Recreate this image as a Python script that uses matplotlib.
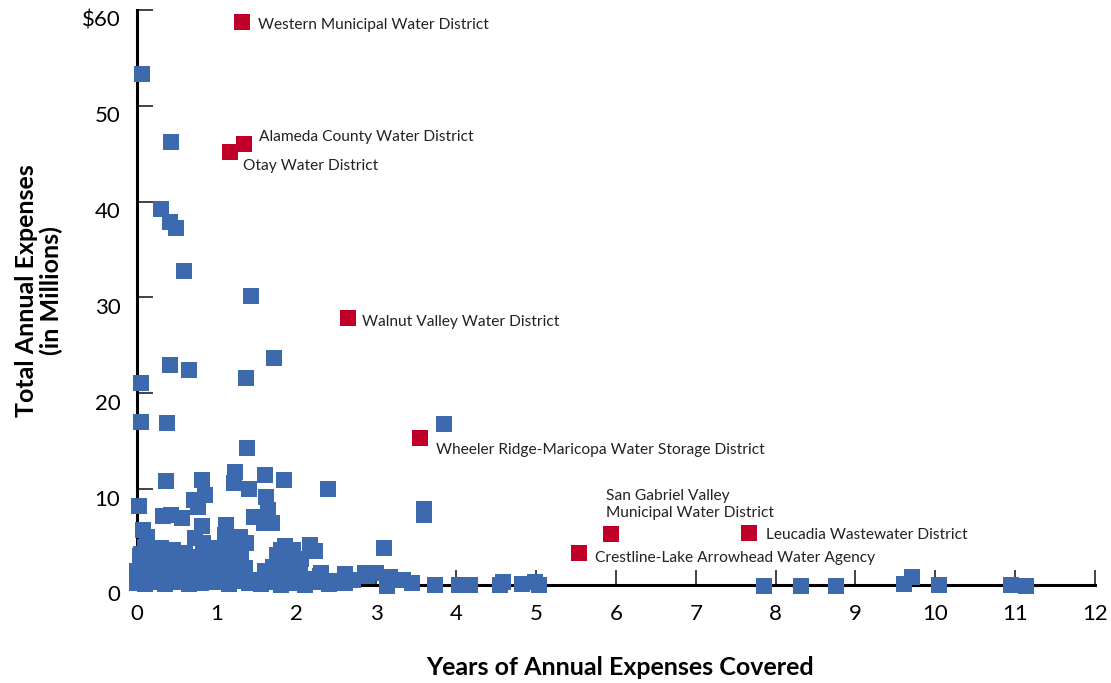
import matplotlib
matplotlib.use("Agg")
import matplotlib.pyplot as plt
import matplotlib.transforms as mtransforms

plt.rcParams['font.family'] = ['Lato', 'DejaVu Sans']

# water districts (blue): years covered, expenses in millions
years = [0.06, 0.43, 0.30, 0.41, 0.49, 0.59, 1.43, 0.05, 0.41, 0.65, 1.37, 1.72,
         0.05, 0.38, 1.38, 3.85, 0.03, 0.36, 0.81, 0.85, 1.23, 1.21, 1.40, 1.60,
         1.84, 2.39, 1.62, 0.72, 0.76, 0.32, 0.42, 0.57, 1.47, 1.64, 1.69, 1.59,
         1.11, 0.81, 0.07, 0.13, 1.10, 1.29, 1.36, 0.73, 0.83, 2.17, 2.23, 3.10,
         1.86, 3.59, 3.60, 1.17, 0.23, 0.04, 2.04, 1.75, 1.92, 1.71, 2.29, 2.88,
         3.73, 4.03, 3.17, 3.13, 3.33, 3.45, 4.17, 4.58, 4.55, 4.82, 4.99, 5.04,
         7.85, 8.32, 8.76, 9.61, 9.71, 10.05, 10.95, 11.14,
         # bottom cluster
         0.00, 0.05, 0.10, 0.15, 0.20, 0.30, 0.35, 0.45, 0.50, 0.60, 0.65, 0.75,
         0.80, 0.90, 1.00, 1.05, 1.15, 1.25, 1.30, 1.40, 1.50, 1.55, 1.65, 1.75,
         1.80, 1.90, 2.00, 2.10, 2.20, 2.30, 2.40, 2.50, 2.60, 2.70,
         0.00, 0.10, 0.25, 0.40, 0.55, 0.70, 0.85, 0.95, 1.10, 1.20, 1.35, 1.60,
         1.70, 1.85, 2.00, 2.30, 2.60, 2.85, 3.00,
         0.05, 0.20, 0.35, 0.50, 0.60, 0.80, 0.95, 1.15, 1.30, 1.78, 1.90, 2.05,
         0.10, 0.30, 0.45, 0.90, 1.00, 1.20, 1.80, 1.95]
expenses = [53.3, 46.2, 39.2, 37.9, 37.2, 32.8, 30.2, 21.1, 23.0, 22.4, 21.6, 23.7,
            17.0, 16.9, 14.3, 16.8, 8.2, 10.9, 11.0, 9.4, 11.8, 10.6, 10.0, 11.5,
            11.0, 10.0, 9.2, 8.9, 8.1, 7.2, 7.3, 7.0, 7.1, 7.8, 6.5, 6.5,
            6.3, 6.2, 5.7, 5.0, 5.2, 5.0, 4.4, 4.9, 4.4, 4.2, 3.5, 3.9,
            4.1, 7.9, 7.3, 3.1, 3.3, 3.0, 2.1, 3.1, 3.0, 1.9, 0.9, 0.9,
            0.0, 0.0, 0.8, -0.1, 0.5, 0.2, 0.0, 0.35, 0.0, 0.1, 0.35, 0.0,
            -0.1, -0.1, -0.1, 0.1, 0.8, 0.0, 0.0, -0.1,
            0.2, 0.6, 0.1, 0.7, 0.3, 0.5, 0.1, 0.6, 0.3, 0.5, 0.1, 0.6,
            0.2, 0.5, 0.3, 0.6, 0.1, 0.4, 0.7, 0.2, 0.5, 0.1, 0.6, 0.3,
            0.0, 0.5, 0.2, 0.0, 0.6, 0.3, 0.1, 0.4, 0.2, 0.5,
            1.5, 1.8, 1.3, 1.9, 1.5, 1.7, 1.4, 1.9, 1.6, 1.3, 1.8, 1.5,
            1.9, 1.4, 1.6, 1.2, 1.1, 1.3, 1.2,
            3.2, 2.8, 3.4, 2.6, 3.3, 2.9, 2.5, 2.8, 3.3, 2.6, 2.5, 2.7,
            4.0, 3.9, 3.6, 3.8, 3.9, 4.0, 3.7, 3.6]

# highlighted districts (red)
names = ["Western Municipal Water District", "Alameda County Water District",
         "Otay Water District", "Walnut Valley Water District",
         "Wheeler Ridge-Maricopa Water Storage District",
         "San Gabriel Valley\nMunicipal Water District",
         "Leucadia Wastewater District", "Crestline-Lake Arrowhead Water Agency"]
red_years = [1.32, 1.34, 1.16, 2.64, 3.55, 5.94, 7.67, 5.54]
red_expenses = [58.7, 46.0, 45.2, 27.9, 15.3, 5.3, 5.4, 3.3]
# label offsets in points (dx, dy)
label_off = [(11, -1.5), (11, 5.5), (10, -10.5), (10, -3.5), (11, -8.5), (-4, 21.5), (12, -1.5), (11, -3.5)]

blue = '#3D6AAE'
red = '#C00028'

fig = plt.figure(figsize=(11.11, 6.83), dpi=100)
ax = fig.add_axes([0.1233, 0.1435, 0.8623, 0.8419])

ax.plot(years, expenses, 's', color=blue, ms=11.5, mew=0, clip_on=False, zorder=3)
ax.plot(red_years, red_expenses, 's', color=red, ms=11.5, mew=0, clip_on=False, zorder=3)

for n, x, y, off in zip(names, red_years, red_expenses, label_off):
    ax.annotate(n, (x, y), xytext=off, textcoords='offset points', fontsize=11.2,
                color='#222222', va='center', ha='left', linespacing=1.25)

ax.set_xlim(0, 12)
ax.set_ylim(0, 60)
ax.spines['top'].set_visible(False)
ax.spines['right'].set_visible(False)
ax.spines['left'].set_linewidth(2.2)
ax.spines['bottom'].set_linewidth(2.2)
ax.set_xticks(range(0, 13))
ax.set_yticks(range(0, 61, 10))
ax.set_yticklabels(['0', '10', '20', '30', '40', '50', '$60'])
ax.tick_params(axis='both', direction='in', labelsize=16, width=1.2, color='#222222')
ax.tick_params(axis='y', length=11.5, pad=12)
ax.tick_params(axis='x', length=10.5, pad=14)

# y tick labels sit a little below their ticks
shift = mtransforms.ScaledTranslation(0, -0.085, fig.dpi_scale_trans)
for lab in ax.get_yticklabels():
    lab.set_transform(lab.get_transform() + shift)

fig.text(0.558, 0.022, 'Years of Annual Expenses Covered', ha='center', va='center',
         fontsize=18, fontweight='bold')
fig.text(0.035, 0.575, 'Total Annual Expenses\n(in Millions)', ha='center', va='center',
         rotation=90, fontsize=18, fontweight='bold', linespacing=1.1)

fig.savefig('out.png', dpi=100)
